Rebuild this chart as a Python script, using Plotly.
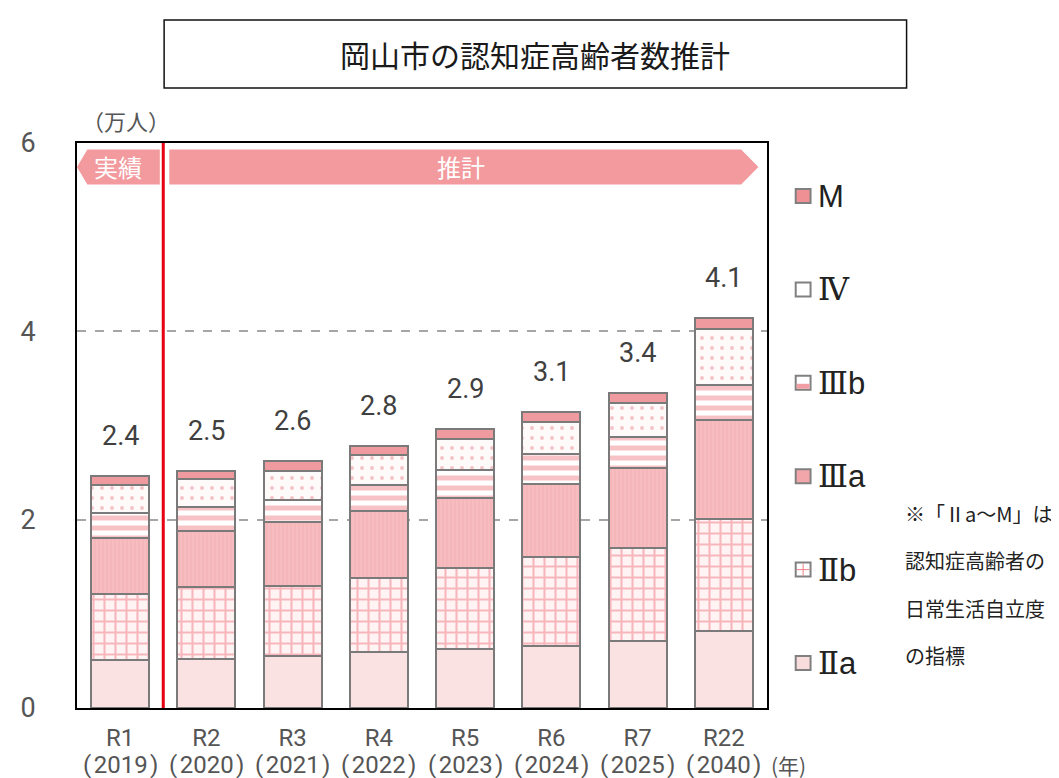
import plotly.graph_objects as go

# ---- data ----
categories = ["R1", "R2", "R3", "R4", "R5", "R6", "R7", "R22"]
years = ["(\u200a2019\u200a)", "(\u200a2020\u200a)", "(\u200a2021\u200a)", "(\u200a2022\u200a)",
         "(\u200a2023\u200a)", "(\u200a2024\u200a)", "(\u200a2025\u200a)", "(\u200a2040\u200a)"]
totals = ["2.4", "2.5", "2.6", "2.8", "2.9", "3.1", "3.4", "4.1"]

IIa = [0.51, 0.52, 0.55, 0.60, 0.63, 0.66, 0.71, 0.82]
IIb = [0.70, 0.77, 0.75, 0.78, 0.86, 0.94, 0.99, 1.19]
IIIa = [0.60, 0.59, 0.67, 0.71, 0.74, 0.78, 0.85, 1.05]
IIIb = [0.26, 0.25, 0.24, 0.28, 0.30, 0.32, 0.33, 0.37]
IV = [0.30, 0.30, 0.31, 0.32, 0.33, 0.34, 0.36, 0.59]
M = [0.09, 0.09, 0.10, 0.09, 0.10, 0.10, 0.11, 0.12]

yticks = [0, 2, 4, 6]
ytick_text = ["0", "2", "4", "6"]

legend_labels = [
    "M",
    "<span style='font-family:DejaVu Serif'>Ⅳ</span>",
    "<span style='font-family:DejaVu Serif'>Ⅲ</span>b",
    "<span style='font-family:DejaVu Serif'>Ⅲ</span>a",
    "<span style='font-family:DejaVu Serif'>Ⅱ</span>b",
    "<span style='font-family:DejaVu Serif'>Ⅱ</span>a",
]
note_lines = ["※「Ⅱa～M」は", "認知症高齢者の", "日常生活自立度", "の指標"]

# ---- layout geometry ----
W, H = 1059, 778
L, R, T, B = 62, 300, 135, 78
PW, PH = W - L - R, H - T - B


def px_x(p):
    return (p - L) / PW


def px_y(p):
    return (H - B - p) / PH


xs = list(range(len(categories)))
OUTLINE = dict(color="#7a7a7a", width=2)
BW = 0.67

fig = go.Figure()

series = [
    ("Ⅱa", IIa, dict(color="#fbe2e2", line=OUTLINE)),
    ("Ⅱb", IIb, dict(color="#fff3f3", line=OUTLINE,
                     pattern=dict(shape="+", fgcolor="#ee7a84", bgcolor="#fff3f3", size=11, solidity=0.34))),
    ("Ⅲa", IIIa, dict(color="#f5b7ba", line=OUTLINE,
                      pattern=dict(shape="|", fgcolor="#f1aaae", bgcolor="#f6bcbf", size=4, solidity=0.3))),
    ("Ⅲb", IIIb, dict(color="#ffffff", line=OUTLINE,
                      pattern=dict(shape="-", fgcolor="#ef868c", bgcolor="#ffffff", size=10, solidity=0.5))),
    ("Ⅳ", IV, dict(color="#fffafa", line=OUTLINE,
                    pattern=dict(shape=".", fgcolor="#e98a91", bgcolor="#fffafa", size=10, solidity=0.12))),
    ("M", M, dict(color="#ef9a9f", line=OUTLINE)),
]
for name, vals, marker in series:
    fig.add_trace(go.Bar(x=xs, y=vals, name=name, width=BW, marker=marker,
                         showlegend=False, hoverinfo="x+y+name"))

# bar sums for label placement
sums = [a + b + c + d + e + f for a, b, c, d, e, f in zip(IIa, IIb, IIIa, IIIb, IV, M)]

annotations = []
for i, (s, t) in enumerate(zip(sums, totals)):
    annotations.append(dict(x=i, y=s, xref="x", yref="y", text=t, showarrow=False,
                            xanchor="center", yshift=40, yanchor="middle",
                            font=dict(family="Roboto", size=27, color="#404040")))
for i, yr in enumerate(years):
    annotations.append(dict(x=i, y=0, xref="x", yref="paper", text=yr, showarrow=False,
                            xanchor="center", yshift=-57, yanchor="middle",
                            font=dict(family="Roboto", size=24, color="#555555")))
annotations.append(dict(x=7.5, y=0, xref="x", yref="paper", text="(年)", showarrow=False,
                        xanchor="left", xshift=2, yshift=-57, yanchor="middle",
                        font=dict(family="Noto Sans CJK JP", size=21, color="#555555")))

# unit label
annotations.append(dict(x=px_x(112), y=px_y(112), xref="paper", yref="paper", text="（万人）",
                        xanchor="center", yanchor="middle",
                        showarrow=False, font=dict(family="Noto Sans CJK JP", size=22, color="#555555")))
# title
annotations.append(dict(x=px_x(525), y=px_y(46), xref="paper", yref="paper",
                        text="岡山市の認知症高齢者数推計", showarrow=False,
                        xanchor="center", yanchor="middle",
                        font=dict(family="Noto Sans CJK JP", size=30, color="#1a1a1a")))

# banners text
annotations.append(dict(x=-0.02, y=5.75, xref="x", yref="y", text="実績", showarrow=False,
                        xanchor="center", yanchor="middle",
                        font=dict(family="Noto Sans CJK JP", size=24, color="#ffffff")))
annotations.append(dict(x=3.95, y=5.75, xref="x", yref="y", text="推計", showarrow=False,
                        xanchor="center", yanchor="middle",
                        font=dict(family="Noto Sans CJK JP", size=24, color="#ffffff")))

# legend texts
for k, lab in enumerate(legend_labels):
    yc = 188 + 93.4 * k
    annotations.append(dict(x=px_x(808), y=px_y(yc), xref="paper", yref="paper", text=lab,
                            showarrow=False, xanchor="left", yanchor="middle",
                            font=dict(family="Liberation Sans", size=31, color="#222222")))

# note
for k, line in enumerate(note_lines):
    annotations.append(dict(x=px_x(896), y=px_y(505 + 47.5 * k), xref="paper", yref="paper",
                            text=line, showarrow=False, xanchor="left", yanchor="middle",
                            font=dict(family="Noto Sans CJK JP", size=20, color="#222222")))

shapes = []
# title box
shapes.append(dict(type="rect", xref="paper", yref="paper", x0=px_x(150), x1=px_x(900),
                   y0=px_y(80), y1=px_y(12), line=dict(color="#111111", width=1.5)))
# banners
BAN = "#f29a9d"
y0b, y1b = 5.56, 5.93
ym = (y0b + y1b) / 2
shapes.append(dict(type="path", xref="x", yref="y", layer="above",
                   path=f"M -0.5 {ym} L -0.38 {y1b} L 0.46 {y1b} L 0.46 {y0b} L -0.38 {y0b} Z",
                   fillcolor=BAN, line=dict(width=0)))
shapes.append(dict(type="path", xref="x", yref="y", layer="above",
                   path=f"M 0.57 {y1b} L 7.2 {y1b} L 7.4 {ym} L 7.2 {y0b} L 0.57 {y0b} Z",
                   fillcolor=BAN, line=dict(width=0)))
# red divider
shapes.append(dict(type="line", xref="x", yref="paper", x0=0.5, x1=0.5, y0=0, y1=1,
                   layer="above", line=dict(color="#e60012", width=3)))

# legend squares
leg_fill = ["#ef9094", "#ffffff", "#ffffff", "#f3a6aa", "#ffffff", "#f9dcdc"]
for k, fc in enumerate(leg_fill):
    yc = 188 + 93.4 * k
    shapes.append(dict(type="rect", xref="paper", yref="paper",
                       x0=px_x(788), x1=px_x(803), y0=px_y(yc + 7), y1=px_y(yc - 7),
                       fillcolor=fc, line=dict(color="#808080", width=2)))
    if k == 2:
        shapes.append(dict(type="rect", xref="paper", yref="paper",
                           x0=px_x(789), x1=px_x(802), y0=px_y(yc + 6), y1=px_y(yc + 1),
                           fillcolor="#f0a0a4", line=dict(width=0)))
    if k == 4:
        shapes.append(dict(type="line", xref="paper", yref="paper",
                           x0=px_x(795.5), x1=px_x(795.5), y0=px_y(yc + 6), y1=px_y(yc - 6),
                           line=dict(color="#f08088", width=1)))
        shapes.append(dict(type="line", xref="paper", yref="paper",
                           x0=px_x(789), x1=px_x(802), y0=px_y(yc), y1=px_y(yc),
                           line=dict(color="#f08088", width=1)))

fig.update_layout(
    width=W, height=H,
    margin=dict(l=L, r=R, t=T, b=B),
    paper_bgcolor="white", plot_bgcolor="white",
    barmode="stack",
    showlegend=False,
    annotations=annotations,
    shapes=shapes,
    xaxis=dict(range=[-0.5, 7.5], tickvals=xs, ticktext=categories, tickangle=0,
               showline=True, linecolor="#000000", linewidth=2, mirror=True,
               showgrid=False, zeroline=False, ticks="", ticklabelstandoff=7,
               tickfont=dict(family="Roboto", size=24, color="#555555")),
    yaxis=dict(range=[0, 6.0], tickvals=yticks, ticktext=ytick_text,
               showline=True, linecolor="#000000", linewidth=2, mirror=True,
               showgrid=True, gridcolor="#a6a6a6", griddash="dash", gridwidth=1.5,
               zeroline=False, ticks="", ticklabelstandoff=34,
               tickfont=dict(family="Roboto", size=27, color="#555555")),
)

fig.write_html("out.html")
